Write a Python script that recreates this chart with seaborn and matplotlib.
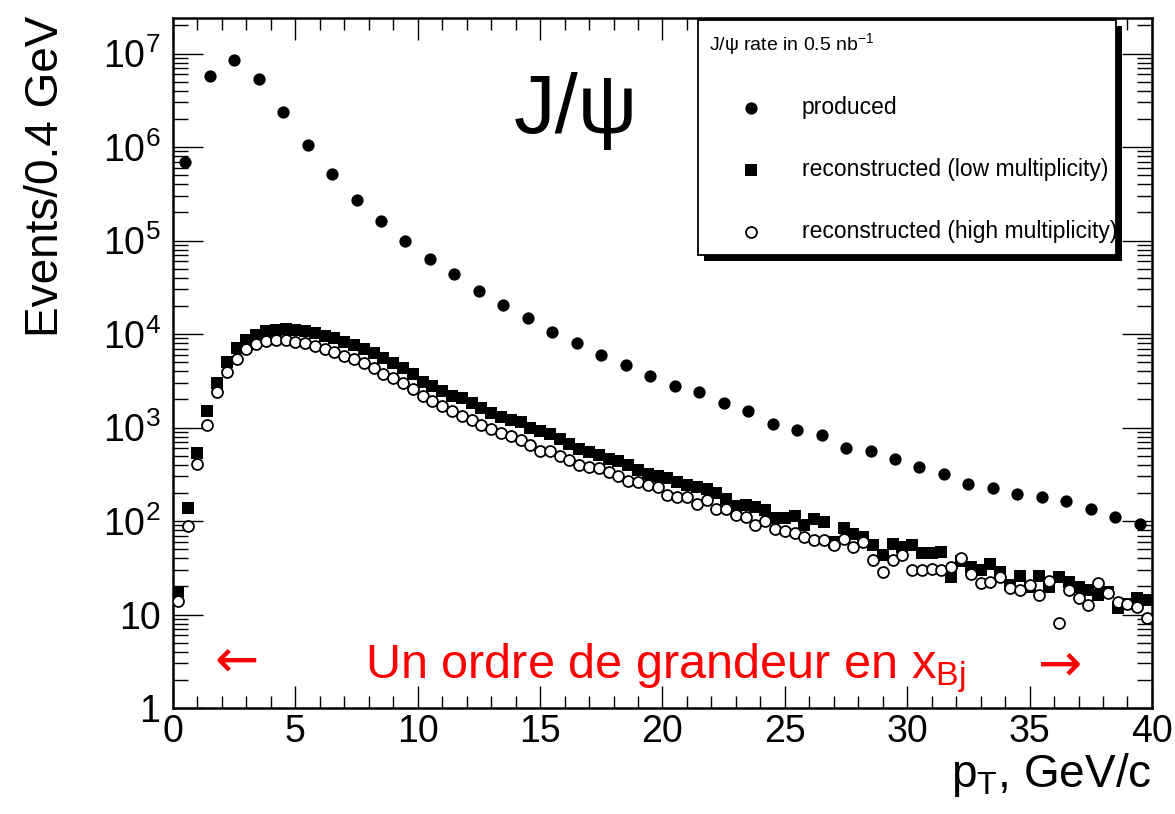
import numpy as np
import pandas as pd
import matplotlib
matplotlib.use("Agg")
import matplotlib.pyplot as plt
import matplotlib.transforms as mtransforms
from matplotlib.patches import Rectangle
from matplotlib.ticker import LogLocator, MultipleLocator, FuncFormatter, NullFormatter
import seaborn as sns

# ---------------- data ----------------
# produced J/psi : 1 GeV bins
pt_produced = np.arange(0.5, 40.0, 1.0)
produced = [7.0e5, 5.75e6, 8.5e6, 5.3e6, 2.37e6, 1.04e6, 5.2e5, 2.74e5, 1.61e5, 1.0e5,
            6.4e4, 4.34e4, 2.9e4, 2.06e4, 1.48e4, 1.06e4, 8.0e3, 6.0e3, 4.7e3, 3.57e3,
            2.77e3, 2.39e3, 1.82e3, 1.49e3, 1.09e3, 933, 832, 608, 560, 456,
            378, 315, 250, 223, 195, 181, 163, 136, 110, 94]

# reconstructed : 0.4 GeV bins
pt_reco = np.arange(0.2, 40.0, 0.4)
reco_low = [17.5, 138, 531, 1510, 3030, 5030, 7050, 8630, 9750, 10800,
            11100, 11200, 11100, 10800, 10200, 9600, 9000, 8300, 7600, 6900,
            6200, 5600, 4900, 4300, 3700, 3100, 2750, 2470, 2200, 2060,
            1820, 1600, 1420, 1300, 1210, 1150, 1000, 910, 853, 760,
            667, 594, 548, 505, 462, 436, 395, 355, 319, 300,
            287, 261, 240, 230, 221, 200, 173, 145, 149, 141,
            130, 108, 108, 112, 91, 104, 97, 60, 84, 73,
            67, 55, 43, 57, 53, 55, 45, 45, 47, 25,
            37, 32, 30, 35, 28.6, 20.6, 26, 19.8, 26, 19.8,
            25, 22.4, 19.8, 18.2, 16.1, 17.5, 11.6, 13.1, 14.9, 14.3]
reco_high = [14, 88, 408, 1060, 2410, 3880, 5370, 6900, 7800, 8400,
             8600, 8600, 8300, 7960, 7450, 6870, 6500, 5800, 5460, 4950,
             4380, 3720, 3350, 2960, 2600, 2150, 1900, 1710, 1510, 1340,
             1200, 1060, 964, 874, 805, 741, 650, 566, 566, 500,
             454, 398, 377, 367, 333, 306, 271, 264, 240, 230,
             188, 180, 182, 153, 166, 135, 135, 115, 110, 90,
             101, 83, 79, 75, 68, 62, 62, 55, 65, 53,
             60, 38, 28.6, 38, 43, 30, 30, 31, 30, 32,
             40, 27, 21.5, 22.4, 25, 19, 18.2, 20.6, 16.1, 23,
             8.1, 18.2, 14.9, 12.6, 21.5, 16.8, 13.7, 13, 12.1, 9.2]

labels = ["produced", "reconstructed (low multiplicity)", "reconstructed (high multiplicity)"]

# ---------------- style ----------------
sns.set_theme(style="ticks")
plt.rcParams["font.family"] = ["Liberation Sans", "DejaVu Sans"]
plt.rcParams["mathtext.fontset"] = "custom"
plt.rcParams["mathtext.rm"] = "Liberation Sans"
plt.rcParams["mathtext.it"] = "Liberation Sans:italic"
plt.rcParams["mathtext.bf"] = "Liberation Sans:bold"
plt.rcParams["axes.edgecolor"] = "black"
plt.rcParams["text.color"] = "black"
plt.rcParams["axes.labelcolor"] = "black"
plt.rcParams["xtick.color"] = "black"
plt.rcParams["ytick.color"] = "black"

fig = plt.figure(figsize=(11.75, 8.14), dpi=100)
ax = fig.add_axes([0.1472, 0.1302, 0.8332, 0.8477])

df_prod = pd.DataFrame({"pt": pt_produced, "n": produced})
df_low = pd.DataFrame({"pt": pt_reco, "n": reco_low})
df_high = pd.DataFrame({"pt": pt_reco, "n": reco_high})

sns.scatterplot(data=df_prod, x="pt", y="n", marker="o", s=78, color="black",
                edgecolor="black", linewidth=0, label=labels[0], ax=ax, zorder=3, legend=False)
sns.scatterplot(data=df_low, x="pt", y="n", marker="s", s=82, color="black",
                edgecolor="black", linewidth=0, label=labels[1], ax=ax, zorder=3, legend=False)
sns.scatterplot(data=df_high, x="pt", y="n", marker="o", s=62, color="white",
                edgecolor="black", linewidth=1.3, label=labels[2], ax=ax, zorder=4, legend=False)

ax.set_yscale("log")
ax.set_xlim(0, 40)
ax.set_ylim(1, 2.4e7)

ax.yaxis.set_major_locator(LogLocator(base=10, numticks=20))
ax.yaxis.set_minor_locator(LogLocator(base=10, subs=np.arange(2, 10), numticks=100))


def yfmt(v, pos):
    if v < 1 or v > 1e7:
        return ""
    e = int(round(np.log10(v)))
    if e == 0:
        return "1"
    if e == 1:
        return "10"
    return r"$\mathregular{10^{%d}}$" % e


ax.yaxis.set_major_formatter(FuncFormatter(yfmt))
ax.yaxis.set_minor_formatter(NullFormatter())
ax.xaxis.set_major_locator(MultipleLocator(5))
ax.xaxis.set_minor_locator(MultipleLocator(1))

ax.tick_params(axis="both", which="both", direction="in", top=True, right=True,
               color="black", width=1.0, labelcolor="black")
ax.tick_params(axis="y", which="major", length=21.6, labelsize=27, pad=9)
ax.tick_params(axis="y", which="minor", length=10.8)
ax.tick_params(axis="x", which="major", length=15.8, labelsize=27, pad=4)
ax.tick_params(axis="x", which="minor", length=8.6)
for sp in ax.spines.values():
    sp.set_linewidth(1.8)
    sp.set_color("black")
    sp.set_visible(True)

ax.set_ylabel("Events/0.4 GeV", fontsize=33, loc="top", color="black")
ax.yaxis.set_label_coords(-0.107, 1.004)
ax.set_xlabel(r"p$_{\mathregular{T}}$, GeV/c", fontsize=33, loc="right", color="black")
ax.xaxis.set_label_coords(1.0, -0.062)

ax.text(0.348, 0.833, "J/ψ", transform=ax.transAxes, fontsize=60,
        ha="left", va="baseline", color="black")
ax.text(0.196, 0.0435, r"Un ordre de grandeur en x$_{\mathregular{Bj}}$",
        transform=ax.transAxes, fontsize=35, color="#ff0000", ha="left", va="baseline")
ax.text(0.0644, 0.067, "←", transform=ax.transAxes, fontsize=38, color="#ff0000",
        ha="center", va="center", family=["DejaVu Sans"])
ax.text(0.906, 0.062, "→", transform=ax.transAxes, fontsize=38, color="#ff0000",
        ha="center", va="center", family=["DejaVu Sans"])

leg = ax.legend(loc="upper left", bbox_to_anchor=(0.5363, 0.0, 0.4269, 0.997),
                mode="expand", borderaxespad=0,
                title=r"J/ψ rate in 0.5 nb$^{\mathregular{-1}}$", title_fontsize=14,
                fontsize=16.5, alignment="left", frameon=True, fancybox=False,
                edgecolor="black", facecolor="white", framealpha=1, borderpad=0.5,
                handlelength=3.62, handletextpad=0.41, labelspacing=1.7, scatterpoints=1)
leg.get_frame().set_linewidth(1.3)
leg.set_zorder(10)
for t in leg.get_texts():
    t.set_clip_on(True)
    t.set_clip_path(leg.get_frame())

fig.canvas.draw()
bb = leg.get_window_extent()
shadow = Rectangle((bb.x0 + 6, bb.y0 - 6), bb.width, bb.height,
                   transform=mtransforms.IdentityTransform(), facecolor="black",
                   edgecolor="none", zorder=9, clip_on=False)
ax.add_artist(shadow)

fig.savefig("out.png", dpi=100, facecolor="white")
